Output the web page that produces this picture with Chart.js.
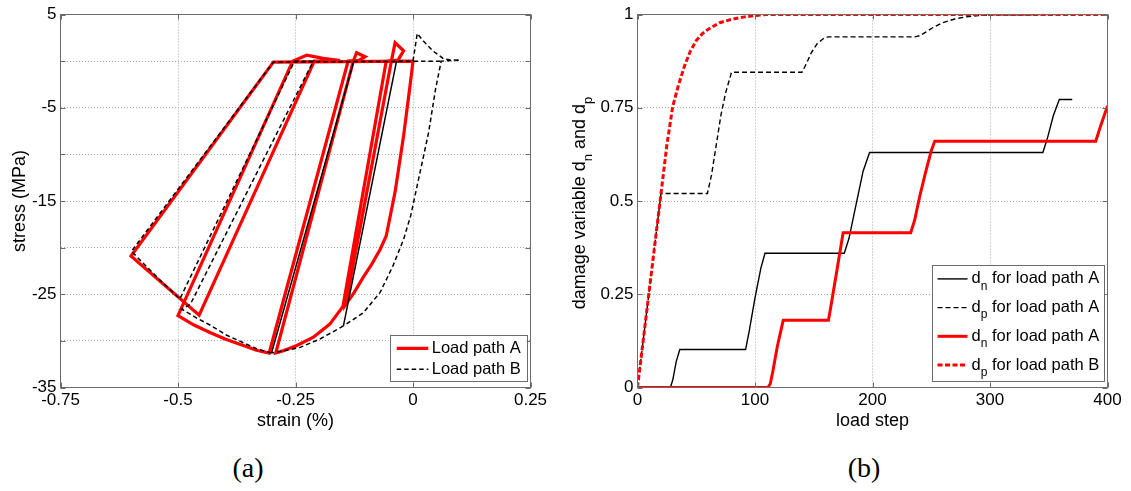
<!DOCTYPE html>
<html lang="en">
<head>
<meta charset="utf-8">
<title>Stress–strain response and damage evolution</title>
<script src="https://cdn.jsdelivr.net/npm/chart.js@4.4.1/dist/chart.umd.min.js"></script>
<style>
  html, body { margin: 0; padding: 0; background: #fff; }
  body { position: relative; width: 1131px; height: 491px; overflow: hidden; }
  canvas { position: absolute; top: 0; }
  #stressStrain { left: 0; }
  #damage { left: 565px; }
  .caption { position: absolute; top: 452px; width: 60px; margin-left: -30px; text-align: center;
             font-family: "Liberation Serif", "Times New Roman", serif; font-size: 28px; line-height: 32px; color: #000; }
</style>
</head>
<body>
<canvas id="stressStrain" width="565" height="445"></canvas>
<canvas id="damage" width="566" height="445"></canvas>
<div class="caption" style="left:248px">(a)</div>
<div class="caption" style="left:864px">(b)</div>
<script>
// ---------- (a) cyclic stress–strain paths (strain in %, stress in MPa) ----------
const pathAStrain = [0, -0.006, -0.020, -0.038, -0.057, -0.070, -0.088, -0.106, -0.125, -0.143,
  -0.046, -0.038, -0.020, -0.032, -0.057, -0.149, -0.177, -0.212, -0.247, -0.279, -0.292,
  -0.127, -0.120, -0.102, -0.115, -0.138, -0.306, -0.333, -0.361, -0.400, -0.432, -0.466, -0.500,
  -0.256, -0.226, -0.191, -0.155, -0.170, -0.210, -0.455, -0.600, -0.297, 0.0];
const pathAStress = [0, -2.5, -8.0, -14.0, -18.75, -20.2, -21.8, -23.2, -24.8, -26.1,
  0, 1.97, 1.1, 0.1, 0, -26.3, -28.2, -29.6, -30.5, -31.1, -31.3,
  0, 0.9, 0.47, 0.08, 0, -31.3, -31.0, -30.5, -29.8, -29.1, -28.3, -27.3,
  0, 0.64, 0.29, 0.05, 0, 0, -27.25, -20.9, -0.1, 0];

const pathBStrain = [0, 0.009, 0.022, 0.043, 0.065, 0.080, 0.100, 0.060, 0.048, 0.033, 0.0104,
  -0.005, -0.020, -0.043, -0.070, -0.106, -0.148, -0.035, -0.148, -0.198, -0.240, -0.283, -0.301,
  -0.126, -0.301, -0.330, -0.361, -0.396, -0.432, -0.462, -0.492, -0.474, -0.212, -0.252,
  -0.496, -0.540, -0.599, -0.297, 0.060];
const pathBStress = [0, 2.97, 2.15, 1.07, 0.26, 0.12, 0.10, 0, -3.0, -7.7, -13.0,
  -16.6, -19.1, -22.0, -24.8, -27.0, -28.4, 0, -28.4, -29.8, -30.7, -31.15, -31.3,
  0, -31.3, -30.9, -30.2, -29.4, -28.3, -27.5, -26.6, -26.1, 0, 0,
  -25.5, -23.4, -20.4, -0.1, 0];

const stressTickLabels = [5, -5, -15, -25, -35];

// ---------- (b) damage variables against load step ----------
const dnAStep = [0, 28, 30, 33, 36, 92, 95, 100, 105, 108.5, 176, 180, 186, 192, 197.5, 345, 349, 354, 359, 370];
const dnA     = [0, 0, 0.02, 0.07, 0.102, 0.102, 0.15, 0.24, 0.32, 0.36, 0.36, 0.40, 0.49, 0.58, 0.63, 0.63, 0.67, 0.73, 0.772, 0.772];

const dpAStep = [0, 5, 10, 15, 20, 59.5, 63, 67, 71, 75, 80, 140, 144, 148, 153, 158, 162, 236, 240, 245, 252, 260, 270, 280, 290, 300, 370];
const dpA     = [0, 0.13, 0.26, 0.39, 0.52, 0.52, 0.57, 0.65, 0.73, 0.79, 0.845, 0.845, 0.87, 0.898, 0.922, 0.935, 0.94, 0.94, 0.943, 0.952, 0.966, 0.978, 0.988, 0.994, 0.997, 0.999, 1.0];

const dnBStep = [0, 111, 113, 115, 119, 124, 162.5, 165, 170, 175, 232.5, 236, 240, 245, 250, 253, 390, 394, 400];
const dnB     = [0, 0, 0.01, 0.04, 0.11, 0.18, 0.18, 0.225, 0.32, 0.415, 0.415, 0.45, 0.51, 0.575, 0.635, 0.66, 0.66, 0.70, 0.755];

const dpBStep = [0, 5, 10, 15, 20, 25, 30, 35, 40, 45, 50, 55, 60, 70, 80, 90, 100, 110, 400];
const dpB     = [0, 0.13, 0.26, 0.39, 0.52, 0.65, 0.754, 0.812, 0.862, 0.902, 0.93, 0.948, 0.96, 0.978, 0.987, 0.993, 0.997, 1.0, 1.0];

// ---------- shared styling ----------
const FONT = '"Liberation Sans", Arial, Helvetica, sans-serif';
const AXIS = '#6b6b6b';
const GRID = '#a8a8a8';
Chart.defaults.color = '#000';
Chart.defaults.font.family = FONT;

const pts = (xs, ys) => xs.map((x, i) => ({ x, y: ys[i] }));

// Text with single-character subscripts written as "_c"
function richParts(text) {
  const parts = [];
  for (let i = 0; i < text.length; i++) {
    if (text[i] === '_' && i + 1 < text.length) { parts.push({ t: text[i + 1], sub: true }); i++; }
    else {
      if (!parts.length || parts[parts.length - 1].sub) parts.push({ t: '', sub: false });
      parts[parts.length - 1].t += text[i];
    }
  }
  return parts;
}
function richWidth(ctx, text, size) {
  let w = 0;
  richParts(text).forEach(p => {
    ctx.font = `${p.sub ? Math.round(size * 0.7) : size}px ${FONT}`;
    w += ctx.measureText(p.t).width;
  });
  return w;
}
function drawRich(ctx, text, x, y, size, align) {
  const w = richWidth(ctx, text, size);
  let cx = align === 'center' ? x - w / 2 : x;
  ctx.textBaseline = 'middle';
  ctx.textAlign = 'left';
  richParts(text).forEach(p => {
    ctx.font = `${p.sub ? Math.round(size * 0.7) : size}px ${FONT}`;
    ctx.fillText(p.t, cx, p.sub ? y + size * 0.45 : y);
    cx += ctx.measureText(p.t).width;
  });
}

// Box around the plot area with inward tick marks on all four sides
const axesFrame = {
  id: 'axesFrame',
  afterDatasetsDraw(chart) {
    const { ctx, chartArea: a, scales: { x, y } } = chart;
    const len = 5;
    ctx.save();
    ctx.strokeStyle = AXIS;
    ctx.lineWidth = 1;
    ctx.setLineDash([]);
    ctx.beginPath();
    x.ticks.forEach(t => {
      const px = Math.round(x.getPixelForValue(t.value)) + 0.5;
      ctx.moveTo(px, a.bottom); ctx.lineTo(px, a.bottom - len);
      ctx.moveTo(px, a.top); ctx.lineTo(px, a.top + len);
    });
    y.ticks.forEach(t => {
      const py = Math.round(y.getPixelForValue(t.value)) + 0.5;
      ctx.moveTo(a.left, py); ctx.lineTo(a.left + len, py);
      ctx.moveTo(a.right, py); ctx.lineTo(a.right - len, py);
    });
    ctx.stroke();
    ctx.strokeRect(a.left, a.top, a.right - a.left, a.bottom - a.top);
    ctx.restore();
  }
};

// Boxed legend in the lower right corner of the plot area
const boxLegend = {
  id: 'boxLegend',
  afterDraw(chart, args, o) {
    const { ctx, chartArea: a } = chart;
    const items = chart.data.datasets.filter(d => d.label);
    ctx.save();
    let tw = 0;
    items.forEach(d => { tw = Math.max(tw, richWidth(ctx, d.label, o.fontSize)); });
    const w = o.padLeft + o.sample + o.gap + tw + o.padRight;
    const h = o.padTop + o.padBottom + (items.length - 1) * o.row;
    const right = a.right - o.insetRight, bottom = a.bottom - o.insetBottom;
    const left = right - w, top = bottom - h;
    ctx.fillStyle = '#fff';
    ctx.fillRect(left, top, w, h);
    ctx.strokeStyle = AXIS;
    ctx.lineWidth = 1;
    ctx.strokeRect(Math.round(left) + 0.5, Math.round(top) + 0.5, Math.round(w), Math.round(h));
    items.forEach((d, i) => {
      const cy = top + o.padTop + i * o.row;
      ctx.beginPath();
      ctx.strokeStyle = d.borderColor;
      ctx.lineWidth = d.borderWidth;
      ctx.setLineDash(d.borderDash || []);
      ctx.moveTo(left + o.padLeft, cy);
      ctx.lineTo(left + o.padLeft + o.sample, cy);
      ctx.stroke();
      ctx.setLineDash([]);
      ctx.fillStyle = '#000';
      drawRich(ctx, d.label, left + o.padLeft + o.sample + o.gap, cy, o.fontSize, 'left');
    });
    ctx.restore();
  }
};

// Rotated y-axis title that may contain subscripts
const richYTitle = {
  id: 'richYTitle',
  afterDraw(chart, args, o) {
    if (!o.text) return;
    const { ctx, chartArea: a } = chart;
    ctx.save();
    ctx.translate(o.x, (a.top + a.bottom) / 2 + (o.shift || 0));
    ctx.rotate(-Math.PI / 2);
    ctx.fillStyle = '#000';
    drawRich(ctx, o.text, 0, 0, o.fontSize, 'center');
    ctx.restore();
  }
};

function fixedWidth(w) { return s => { s.width = w; }; }
function fixedHeight(h) { return s => { s.height = h; }; }

const tickFont = { size: 17, family: FONT };
const titleFont = { size: 18, family: FONT };
const gridStyle = { color: GRID, lineWidth: 1, drawTicks: false };
const gridBorder = { display: false, dash: [1, 2] };

// ---------- chart (a) ----------
new Chart(document.getElementById('stressStrain'), {
  type: 'scatter',
  data: {
    datasets: [
      {
        label: 'Load path A',
        data: pts(pathAStrain, pathAStress),
        showLine: true, pointRadius: 0, borderColor: '#ff0000', backgroundColor: '#ff0000',
        borderWidth: 3.2, borderJoinStyle: 'miter', order: 2
      },
      {
        label: 'Load path B',
        data: pts(pathBStrain, pathBStress),
        showLine: true, pointRadius: 0, borderColor: '#000', backgroundColor: '#000',
        borderWidth: 1.5, borderDash: [4.5, 3], order: 1,
        segment: {
          // steep elastic unloading/reloading branches are drawn as continuous lines
          borderDash: c => {
            const i = c.p0DataIndex, j = c.p1DataIndex;
            const dx = pathBStrain[j] - pathBStrain[i], dy = pathBStress[j] - pathBStress[i];
            const steep = Math.abs(dy) > 140 * Math.abs(dx);
            return steep && Math.max(pathBStrain[i], pathBStrain[j]) < -0.025 ? [] : undefined;
          }
        }
      }
    ]
  },
  options: {
    responsive: false, animation: false, events: [],
    layout: { padding: { left: 0, top: 14.5, right: 34.5, bottom: 0 } },
    plugins: {
      legend: { display: false }, tooltip: { enabled: false },
      boxLegend: { fontSize: 16.5, padLeft: 6.7, sample: 31.6, gap: 3.4, padRight: 6,
                   padTop: 13.3, padBottom: 11.7, row: 21, insetRight: 3.8, insetBottom: 6.5 }
    },
    scales: {
      x: {
        type: 'linear', min: -0.75, max: 0.25,
        ticks: { stepSize: 0.25, padding: 3, font: tickFont, color: '#000', maxRotation: 0, autoSkip: false,
                 callback: v => String(+(+v).toFixed(2)) },
        grid: gridStyle, border: gridBorder,
        title: { display: true, text: 'strain (%)', font: titleFont, color: '#000', padding: { top: 0, bottom: 13.2 } },
        afterFit: fixedHeight(57.5)
      },
      y: {
        type: 'linear', min: -35, max: 5,
        ticks: { stepSize: 5, padding: 4, font: tickFont, color: '#000', autoSkip: false,
                 callback: v => stressTickLabels.includes(Math.round(v)) ? String(Math.round(v)) : '' },
        grid: gridStyle, border: gridBorder,
        title: { display: true, text: 'stress (MPa)', font: titleFont, color: '#000', padding: { top: 9.2, bottom: 0 } },
        afterFit: fixedWidth(60.5)
      }
    }
  },
  plugins: [axesFrame, boxLegend]
});

// ---------- chart (b) ----------
new Chart(document.getElementById('damage'), {
  type: 'scatter',
  data: {
    datasets: [
      { label: 'd_n for load path A', data: pts(dnAStep, dnA), showLine: true, pointRadius: 0,
        borderColor: '#000', backgroundColor: '#000', borderWidth: 1.4, order: 2 },
      { label: 'd_p for load path A', data: pts(dpAStep, dpA), showLine: true, pointRadius: 0,
        borderColor: '#000', backgroundColor: '#000', borderWidth: 1.4, borderDash: [5, 3], order: 2 },
      { label: 'd_n for load path A', data: pts(dnBStep, dnB), showLine: true, pointRadius: 0,
        borderColor: '#ff0000', backgroundColor: '#ff0000', borderWidth: 3, order: 1 },
      { label: 'd_p for load path B', data: pts(dpBStep, dpB), showLine: true, pointRadius: 0,
        borderColor: '#ff0000', backgroundColor: '#ff0000', borderWidth: 3, borderDash: [5, 2.5], order: 1 }
    ]
  },
  options: {
    responsive: false, animation: false, events: [],
    layout: { padding: { left: 0, top: 14.5, right: 23.5, bottom: 0 } },
    plugins: {
      legend: { display: false }, tooltip: { enabled: false },
      boxLegend: { fontSize: 16.5, padLeft: 5.7, sample: 30, gap: 4, padRight: 5,
                   padTop: 14.3, padBottom: 16, row: 28.7, insetRight: 3.2, insetBottom: 6.5 },
      richYTitle: { text: 'damage variable d_n and d_p', x: 15, fontSize: 18, shift: 2 }
    },
    scales: {
      x: {
        type: 'linear', min: 0, max: 400,
        ticks: { stepSize: 100, padding: 3, font: tickFont, color: '#000', maxRotation: 0, autoSkip: false },
        grid: gridStyle, border: gridBorder,
        title: { display: true, text: 'load step', font: titleFont, color: '#000', padding: { top: 0, bottom: 13.2 } },
        afterFit: fixedHeight(57.5)
      },
      y: {
        type: 'linear', min: 0, max: 1,
        ticks: { stepSize: 0.25, padding: 4, font: tickFont, color: '#000', autoSkip: false,
                 callback: v => String(+(+v).toFixed(2)) },
        grid: gridStyle, border: gridBorder,
        afterFit: fixedWidth(72.5)
      }
    }
  },
  plugins: [axesFrame, boxLegend, richYTitle]
});
</script>
</body>
</html>
